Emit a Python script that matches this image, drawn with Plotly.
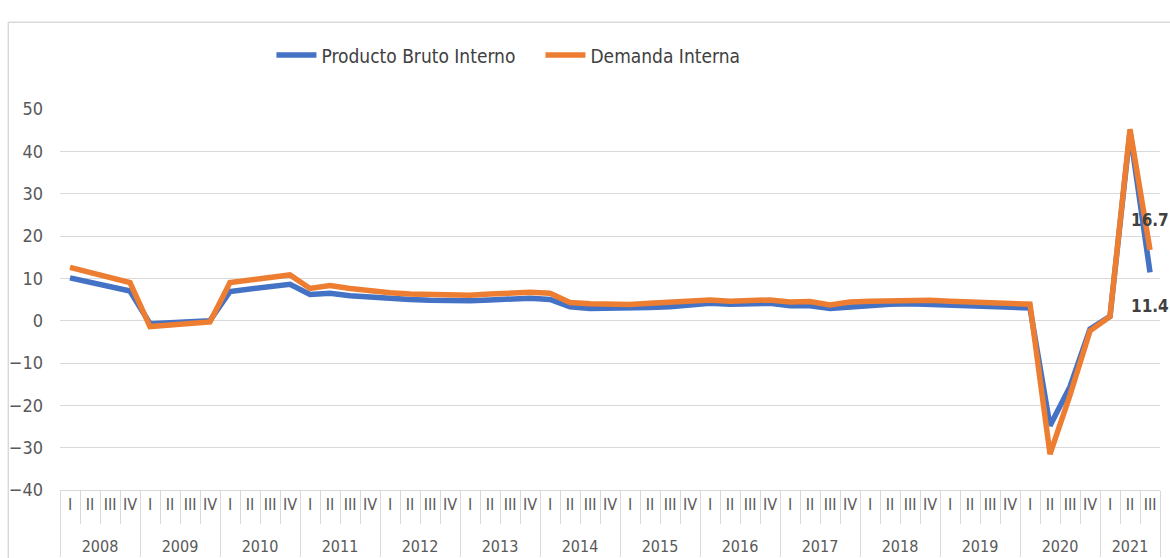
import plotly.graph_objects as go

years = ["2008", "2009", "2010", "2011", "2012", "2013", "2014", "2015",
         "2016", "2017", "2018", "2019", "2020", "2021"]
quarters = ["I", "II", "III", "IV"]

pbi = [10.1, 9.1, 8.0, 7.0,
       -0.7, -0.5, -0.3, 0.0,
       6.9, 7.5, 8.0, 8.6,
       6.2, 6.5, 5.9, 5.5,
       5.2, 5.0, 4.8, 4.6,
       4.7, 4.9, 5.2, 5.3,
       5.0, 3.3, 2.9, 2.9,
       2.9, 3.1, 3.3, 3.6,
       4.1, 3.9, 4.0, 4.1,
       3.5, 3.5, 2.9, 3.3,
       3.5, 3.9, 4.0, 3.8,
       3.6, 3.6, 3.4, 3.2,
       3.0, -24.8, -15.6, -2.0,
       1.0, 44.6, 11.4]
di = [12.6, 11.4, 10.2, 9.0,
      -1.4, -1.0, -0.6, -0.3,
      9.0, 9.6, 10.2, 10.8,
      7.6, 8.3, 7.6, 7.0,
      6.6, 6.3, 6.1, 5.9,
      6.0, 6.3, 6.6, 6.7,
      6.5, 4.3, 4.0, 3.8,
      3.8, 4.1, 4.3, 4.6,
      4.9, 4.6, 4.8, 4.9,
      4.4, 4.5, 3.7, 4.4,
      4.6, 4.7, 4.9, 4.8,
      4.6, 4.5, 4.4, 4.2,
      3.9, -31.5, -17.6, -2.4,
      1.0, 45.2, 16.7]

n = len(pbi)
# year labels pushed to a second text line so they sit lower, as in the reference
x_year = ["<br>" + years[i // 4] for i in range(n)]
x_q = [quarters[i % 4] for i in range(n)]

BLUE = "#4472C4"
ORANGE = "#ED7D31"
GRID = "#D9D9D9"
TXT = "#595959"
FONT = "Liberation Sans Narrow, DejaVu Sans Condensed, Open Sans"

fig = go.Figure()
fig.add_trace(go.Scatter(x=[x_year, x_q], y=pbi, mode="lines",
                         name="Producto Bruto Interno",
                         line=dict(color=BLUE, width=5.5)))
fig.add_trace(go.Scatter(x=[x_year, x_q], y=di, mode="lines",
                         name="Demanda Interna",
                         line=dict(color=ORANGE, width=5.5)))

fig.add_annotation(x=n - 1, y=di[-1], xref="x", yref="y",
                   text="<b>%.1f</b>" % di[-1], showarrow=False,
                   xanchor="center", yanchor="middle", yshift=30,
                   font=dict(family=FONT, size=17, color="#404040"))
fig.add_annotation(x=n - 1, y=pbi[-1], xref="x", yref="y",
                   text="<b>%.1f</b>" % pbi[-1], showarrow=False,
                   xanchor="center", yanchor="middle", yshift=-34,
                   font=dict(family=FONT, size=17, color="#404040"))

# chart frame borders
fig.add_shape(type="line", xref="paper", yref="paper",
              x0=-0.047, x1=1.01, y0=1.228, y1=1.228,
              line=dict(color=GRID, width=1.5))
fig.add_shape(type="line", xref="paper", yref="paper",
              x0=-0.047, x1=-0.047, y0=1.228, y1=-0.2,
              line=dict(color=GRID, width=1.5))

fig.update_layout(
    width=1170, height=558,
    margin=dict(l=60, r=10, t=109, b=68, autoexpand=False),
    paper_bgcolor="white", plot_bgcolor="white",
    font=dict(family=FONT, color=TXT, size=17),
    showlegend=True,
    legend=dict(orientation="h", xref="container", yref="container",
                x=0.232, y=0.901, xanchor="left", yanchor="middle",
                font=dict(size=19, color="#404040"),
                bgcolor="rgba(0,0,0,0)", itemwidth=40,
                entrywidth=214, entrywidthmode="pixels"),
    xaxis=dict(type="multicategory", range=[-0.5, n - 0.5],
               showgrid=False, showline=True, dtick=1, tick0=0,
               linecolor=GRID, tickson="boundaries", ticks="outside",
               ticklen=33, tickcolor=GRID, dividercolor=GRID,
               dividerwidth=1, tickangle=0, automargin=False,
               tickfont=dict(size=16, color=TXT)),
    yaxis=dict(range=[-40, 50], dtick=10, showgrid=True, gridcolor=GRID,
               gridwidth=1, zeroline=False, showline=False, automargin=False,
               ticklabelstandoff=16, tickfont=dict(size=18, color=TXT)),
)

fig.write_html("out.html", config={"displayModeBar": False},
               post_script="document.body.style.margin='0';")
